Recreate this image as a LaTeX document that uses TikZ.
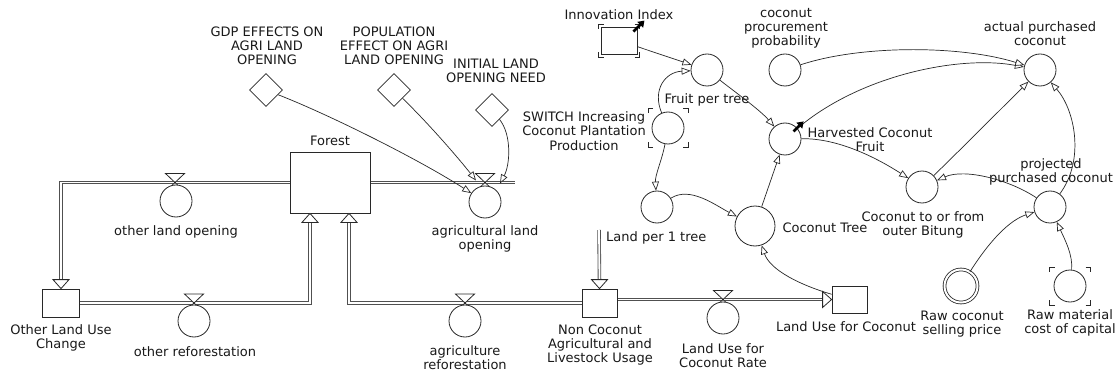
\documentclass[tikz,border=0pt]{standalone}
\usepackage{fontspec}
\setmainfont{DejaVu Sans}
\usetikzlibrary{arrows.meta,shapes.geometric,backgrounds}
\definecolor{ink}{RGB}{40,40,40}
\definecolor{txt}{RGB}{25,25,25}
\definecolor{pipegray}{RGB}{80,80,80}

% corner brackets around a shadow / lookup variable: centre, half width, half height
\newcommand\cornermarks[3]{%
  \begin{scope}[shift={(#1)}]
    \draw[brk] (-#2+5,-#3) -- (-#2,-#3) -- (-#2,-#3+5);
    \draw[brk] (#2-5,-#3) -- (#2,-#3) -- (#2,-#3+5);
    \draw[brk] (-#2+5,#3) -- (-#2,#3) -- (-#2,#3-5);
    \draw[brk] (#2-5,#3) -- (#2,#3) -- (#2,#3-5);
  \end{scope}}

\begin{document}
\begin{tikzpicture}[x=1pt,y=-1pt,
  every node/.style={font=\fontsize{13}{14.2}\selectfont, text=txt},
  lbl/.style={align=center, inner sep=0pt},
  stock/.style={draw=ink, fill=white, line width=0.8pt, inner sep=0pt, rectangle},
  aux/.style={draw=ink, fill=white, circle, line width=0.8pt, minimum size=32pt, inner sep=0pt},
  const/.style={draw=ink, fill=white, diamond, line width=0.8pt, minimum width=33pt, minimum height=33pt, inner sep=0pt},
  link/.style={draw=ink, line width=0.7pt, -{Triangle[open, length=9pt, width=7pt, fill=white]}},
  pipe/.style={draw=pipegray, double=white, double distance=1.8pt, line width=0.85pt, line join=miter},
  pipehead/.style={draw=ink, fill=white, line width=0.8pt, line join=miter},
  brk/.style={draw=ink, line width=0.8pt},
  bolder/.style={draw=black, line width=2.6pt, -{Triangle[length=6pt, width=8pt]}},
  valvesym/.pic={\draw[pipehead] (-9.5,-9) -- (9.5,-9) -- (-9.5,9) -- (9.5,9) -- cycle;}]

\begin{pgfonlayer}{background}
  \fill[white] (0,0) rectangle (1118,374);
\end{pgfonlayer}
\useasboundingbox (0,0) rectangle (1118,374);

% ---------- stocks ----------
\node[stock, minimum width=80pt, minimum height=61pt] (forest) at (330,182.5) {};
\node[stock, minimum width=37pt, minimum height=28pt] (olu) at (61,303) {};
\node[stock, minimum width=35pt, minimum height=28pt] (nonc) at (599.5,303) {};
\node[stock, minimum width=35pt, minimum height=27pt] (luc) at (849.5,299.5) {};
\node[stock, minimum width=36pt, minimum height=27pt] (innov) at (619,40.5) {};

% ---------- auxiliaries ----------
\node[aux] (olo) at (176,201) {};
\node[aux] (oref) at (194,321) {};
\node[aux] (aglo) at (485,202) {};
\node[aux] (agref) at (465,321) {};
\node[aux] (lucr) at (723,318) {};
\node[aux] (fpt) at (707,70) {};
\node[aux] (switch) at (668,128) {};
\node[aux] (lpt) at (657,207) {};
\node[aux, minimum size=40pt] (ct) at (755,226) {};
\node[aux] (hcf) at (785,139) {};
\node[aux] (cpp) at (785,70) {};
\node[aux] (apc) at (1040,70) {};
\node[aux] (cto) at (922,187) {};
\node[aux] (ppc) at (1050,207) {};
\node[aux, double=white, double distance=2pt, minimum size=33pt] (raw) at (961,286) {};
\node[aux] (rmc) at (1070,286) {};

% ---------- constants ----------
\node[const] (gdp) at (266,90) {};
\node[const] (pop) at (394,90) {};
\node[const] (init) at (492,110) {};

% ---------- flow pipes and valves ----------
\coordinate (aglov) at (485,182.5);
\coordinate (aglotail) at (515,182.5);
\coordinate (agflow) at (599,230);
\begin{pgfonlayer}{background}
  \draw[pipe] (forest.west) -| ([shift={(0,-9)}]olu.north);
  \draw[pipe] (olu.east) -| ([shift={(-20,9)}]forest.south);
  \draw[pipe] (forest.east) -- (aglotail);
  \draw[pipe] (agflow) -- ([shift={(0,-9)}]nonc.north);
  \draw[pipe] (nonc.west) -| ([shift={(19,9)}]forest.south);
  \draw[pipe] (nonc.east |- luc.west) -- ([shift={(-9,0)}]luc.west);
  \pic at (175,182.5) {valvesym};
  \pic at (194,303) {valvesym};
  \pic at (aglov) {valvesym};
  \pic at (465,303) {valvesym};
  \pic at (723,299.5) {valvesym};
\end{pgfonlayer}

% pipe arrowheads
\draw[pipehead] (olu.north) -- ++(-8,-9) -- ++(16,0) -- cycle;
\draw[pipehead] ([shift={(-20,0)}]forest.south) -- ++(-8,9) -- ++(16,0) -- cycle;
\draw[pipehead] ([shift={(19,0)}]forest.south) -- ++(-8,9) -- ++(16,0) -- cycle;
\draw[pipehead] (nonc.north) -- ++(-8,-9) -- ++(16,0) -- cycle;
\draw[pipehead] (luc.west) -- ++(-9,-8) -- ++(0,16) -- cycle;

% corner marks
\cornermarks{innov.center}{20.5}{16.5}
\cornermarks{switch.center}{20}{19.5}
\cornermarks{rmc.center}{20.5}{19}

% ---------- information links ----------
\draw[link] (gdp) .. controls (330,115) and (420,160) .. (aglo);
\draw[link] (pop) .. controls (430,125) and (460,160) .. ([shift={(-9,-2)}]aglov);
\draw[link] (init) .. controls (512,135) and (510,165) .. ([shift={(15,1)}]aglov);
\draw[link] (innov) -- (fpt);
\draw[link] (switch) .. controls (652,90) and (665,72) .. (fpt);
\draw[link] (switch) .. controls (662,160) and (655,175) .. (lpt);
\draw[link] (lpt) .. controls (690,186) and (715,205) .. (ct);
\draw[link] (ct) -- (hcf);
\draw[link] (fpt) .. controls (735,92) and (760,110) .. (hcf);
\draw[link] (hcf) .. controls (860,75) and (960,55) .. (apc);
\draw[link] (cpp) .. controls (860,45) and (960,45) .. (apc);
\draw[link] (hcf) .. controls (840,138) and (880,160) .. (cto);
\draw[link] (cto) .. controls (960,150) and (1000,110) .. (apc);
\draw[link] (ppc) .. controls (1010,180) and (965,168) .. (cto);
\draw[link] (ppc) .. controls (1085,160) and (1075,110) .. (apc);
\draw[link] (raw) .. controls (990,240) and (1010,220) .. (ppc);
\draw[link] (rmc) .. controls (1073,255) and (1065,240) .. (ppc);
\draw[link] (luc) .. controls (800,285) and (770,270) .. (ct);

% causes-tree markers
\draw[bolder] ([shift={(-4,5)}]innov.north east) -- ++(11,-11);
\draw[bolder] ([shift={(-3,4)}]hcf.north east) -- ++(10,-10);

% ---------- labels ----------
\node[lbl] (gdplbl) at (267,46) {GDP EFFECTS ON\\AGRI LAND\\OPENING};
\node[lbl] (poplbl) at (394,46) {POPULATION\\EFFECT ON AGRI\\LAND OPENING};
\node[lbl] (initlbl) at (496,71) {INITIAL LAND\\OPENING NEED};
\node[lbl] (forestlbl) at (330,141) {Forest};
\node[lbl] (ololbl) at (176,232) {other land opening};
\node[lbl] (olulbl) at (61,338) {Other Land Use\\Change};
\node[lbl] (oreflbl) at (195,352) {other reforestation};
\node[lbl] (aglolbl) at (485,239) {agricultural land\\opening};
\node[lbl] (agreflbl) at (465,358) {agriculture\\reforestation};
\node[lbl] (nonclbl) at (600,345) {Non Coconut\\Agricultural and\\Livestock Usage};
\node[lbl, anchor=west] (lptlbl) at (606,238) {Land per 1 tree};
\node[lbl] (lucrlbl) at (723,356) {Land Use for\\Coconut Rate};
\node[lbl] (luclbl) at (846,327) {Land Use for Coconut};
\node[lbl] (innovlbl) at (619,15) {Innovation Index};
\node[lbl] (fptlbl) at (707,100) {Fruit per tree};
\node[lbl] (switchlbl) at (584,131) {SWITCH Increasing\\Coconut Plantation\\Production};
\node[lbl] (hcflbl) at (870,140) {Harvested Coconut\\Fruit};
\node[lbl] (cpplbl) at (786,28) {coconut\\procurement\\probability};
\node[lbl] (apclbl) at (1040,34) {actual purchased\\coconut};
\node[lbl] (ctlbl) at (825,228) {Coconut Tree};
\node[lbl] (ctolbl) at (923,225) {Coconut to or from\\outer Bitung};
\node[lbl] (ppclbl) at (1051,172) {projected\\purchased coconut};
\node[lbl] (rawlbl) at (962,324) {Raw coconut\\selling price};
\node[lbl] (rmclbl) at (1070,323) {Raw material\\cost of capital};
\end{tikzpicture}
\end{document}
